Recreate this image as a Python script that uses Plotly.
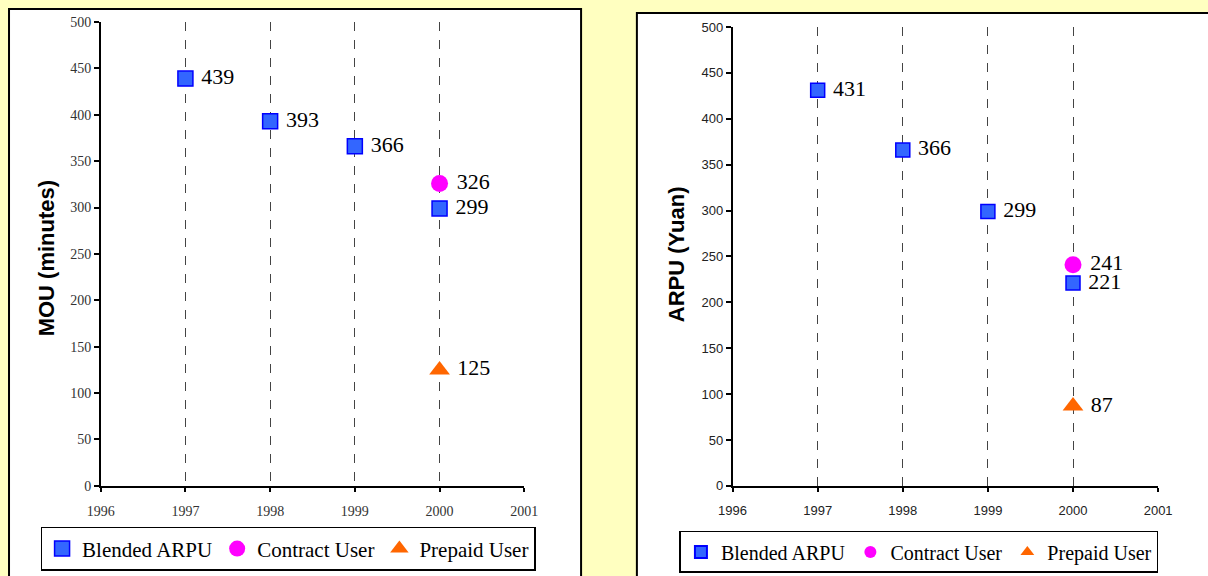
import plotly.graph_objects as go

W, H = 1208, 576

# Minutes of use per subscriber (left panel)
mou_years = [1997, 1998, 1999, 2000]
mou_blended = [439, 393, 366, 299]
mou_contract_year = [2000]
mou_contract = [326]
mou_prepaid_year = [2000]
mou_prepaid = [125]

# Average revenue per user, Yuan (right panel)
arpu_years = [1997, 1998, 1999, 2000]
arpu_blended = [431, 366, 299, 221]
arpu_contract_year = [2000]
arpu_contract = [241]
arpu_prepaid_year = [2000]
arpu_prepaid = [87]

series_names = ["Blended ARPU", "Contract User", "Prepaid User"]
year_ticks = [1996, 1997, 1998, 1999, 2000, 2001]
value_ticks = [0, 50, 100, 150, 200, 250, 300, 350, 400, 450, 500]

SERIF = "Liberation Serif, Times New Roman, serif"
SANS = "Liberation Sans, Arial, sans-serif"

BLUE_FILL, BLUE_EDGE = "#3366FF", "#0000FF"
MAGENTA = "#FF00FF"
ORANGE = "#FF6600"

# Plot-area origin and size on the page, used to place items by pixel.
AREA_X0, AREA_W = 12, 1184
AREA_Y0, AREA_H = 8, 560


def px_x(p):
    return (p - AREA_X0) / AREA_W


def px_y(p):
    return 1 - (p - AREA_Y0) / AREA_H


fig = go.Figure()


def add_panel(xa, ya, legend, years, blended, c_year, contract, p_year, prepaid, sq):
    common = dict(xaxis=xa, yaxis=ya, legend=legend, mode="markers+text",
                  textposition="middle right",
                  texttemplate="\u00a0%{y}",
                  textfont=dict(family=SERIF, size=22, color="#000000"),
                  cliponaxis=False)
    fig.add_trace(go.Scatter(x=years, y=blended, name=series_names[0],
                             marker=dict(symbol="square", size=sq, color=BLUE_FILL,
                                         line=dict(color=BLUE_EDGE, width=1.5)),
                             **common))
    fig.add_trace(go.Scatter(x=c_year, y=contract, name=series_names[1],
                             marker=dict(symbol="circle", size=17, color=MAGENTA,
                                         line=dict(width=0)),
                             **common))
    fig.add_trace(go.Scatter(x=p_year, y=prepaid, name=series_names[2],
                             marker=dict(symbol="triangle-up", size=18, color=ORANGE,
                                         line=dict(width=0)),
                             **common))


add_panel("x", "y", "legend", mou_years, mou_blended, mou_contract_year, mou_contract,
          mou_prepaid_year, mou_prepaid, 15)
add_panel("x2", "y2", "legend2", arpu_years, arpu_blended, arpu_contract_year,
          arpu_contract, arpu_prepaid_year, arpu_prepaid, 14)


def xaxis_cfg(domain, font):
    return dict(domain=domain, range=[1996, 2001], tickvals=year_ticks,
                showgrid=True, gridcolor="#444444", griddash="dash", gridwidth=1,
                showline=True, linecolor="#000000", linewidth=1.5,
                ticks="outside", ticklen=4, tickcolor="#000000", tickwidth=1.5,
                tickfont=font, ticklabelstandoff=8, zeroline=False,
                fixedrange=True)


def yaxis_cfg(domain, anchor, font):
    return dict(domain=domain, range=[0, 500], tickvals=value_ticks, anchor=anchor,
                showgrid=False, showline=True, linecolor="#000000", linewidth=1.5,
                ticks="outside", ticklen=5, tickcolor="#000000", tickwidth=1.5,
                tickfont=font, zeroline=False, fixedrange=True)


left_tick_font = dict(family=SERIF, size=14, color="#333333")
right_tick_font = dict(family=SANS, size=13, color="#222222")

fig.update_layout(
    width=W, height=H,
    margin=dict(l=0, r=0, t=0, b=0),
    paper_bgcolor="#FFFFC0",
    plot_bgcolor="rgba(0,0,0,0)",
    xaxis=dict(**xaxis_cfg([px_x(99), px_x(524)], left_tick_font), anchor="y"),
    yaxis=yaxis_cfg([px_y(486), px_y(23)], "x", left_tick_font),
    xaxis2=dict(**xaxis_cfg([px_x(733), px_x(1160)], right_tick_font), anchor="y2"),
    yaxis2=yaxis_cfg([px_y(486), px_y(28)], "x2", right_tick_font),
    legend=dict(orientation="h", x=px_x(287), xanchor="center", y=px_y(549),
                yanchor="middle", bgcolor="#FFFFFF", bordercolor="#000000",
                borderwidth=1.5, font=dict(family=SERIF, size=21, color="#000000"),
                itemsizing="trace", tracegroupgap=0),
    legend2=dict(orientation="h", x=px_x(920), xanchor="center", y=px_y(552),
                 yanchor="middle", bgcolor="#FFFFFF", bordercolor="#000000",
                 borderwidth=1.5, font=dict(family=SERIF, size=20, color="#000000"),
                 itemsizing="constant", tracegroupgap=0),
    showlegend=True,
    shapes=[
        dict(type="rect", xref="paper", yref="paper", layer="below",
             x0=px_x(7), x1=px_x(581), y0=px_y(600), y1=px_y(10),
             fillcolor="#FFFFFF", line=dict(color="#000000", width=2)),
        dict(type="rect", xref="paper", yref="paper", layer="below",
             x0=px_x(637), x1=px_x(1240), y0=px_y(600), y1=px_y(14),
             fillcolor="#FFFFFF", line=dict(color="#000000", width=2)),
    ],
    annotations=[
        dict(text="<b>MOU (minutes)</b>", xref="paper", yref="paper",
             x=px_x(45), y=px_y(259), xanchor="center", yanchor="middle",
             textangle=-90, showarrow=False,
             font=dict(family=SANS, size=22, color="#000000")),
        dict(text="<b>ARPU (Yuan)</b>", xref="paper", yref="paper",
             x=px_x(677), y=px_y(255), xanchor="center", yanchor="middle",
             textangle=-90, showarrow=False,
             font=dict(family=SANS, size=22, color="#000000")),
    ],
)

fig.write_html("out.html")
